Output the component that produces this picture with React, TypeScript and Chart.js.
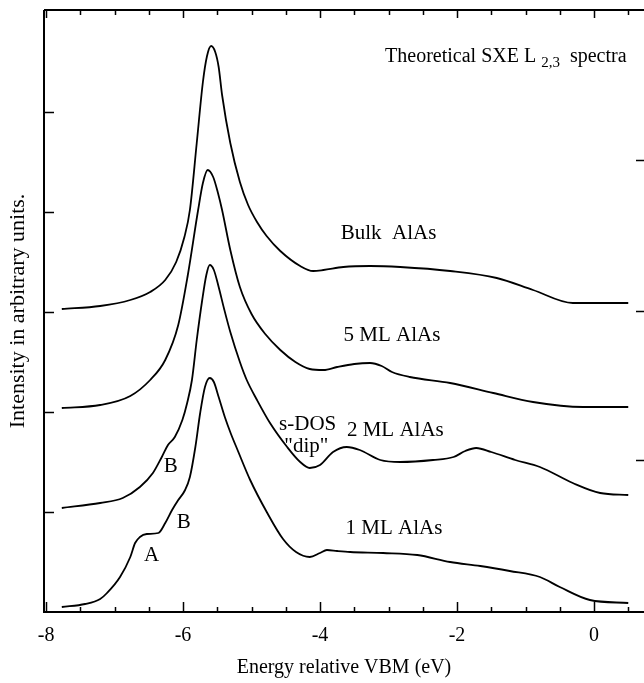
import React, { useEffect, useRef } from "react";
import { Chart, registerables } from "chart.js";

Chart.register(...registerables);

const FONT = '"Liberation Serif", "Times New Roman", serif';

// Energy (eV) and intensity (arb. units, stacked offsets as in the figure)
const bulkE = [-7.77, -7.21, -6.77, -6.48, -6.26, -6.1, -5.98, -5.9, -5.8, -5.71, -5.65, -5.59, -5.53, -5.48, -5.43, -5.31, -5.17, -5.05, -4.92, -4.78, -4.58, -4.29, -4.1, -3.95, -3.66, -3.27, -2.83, -2.1, -1.42, -0.89, -0.31, 0.0, 0.5];
const bulkI = [3.03, 3.06, 3.12, 3.2, 3.32, 3.5, 3.75, 4.02, 4.69, 5.3, 5.56, 5.66, 5.6, 5.45, 5.17, 4.69, 4.3, 4.07, 3.9, 3.76, 3.61, 3.46, 3.41, 3.42, 3.45, 3.46, 3.45, 3.41, 3.34, 3.22, 3.09, 3.09, 3.09];

const ml5E = [-7.77, -7.21, -6.77, -6.48, -6.26, -6.07, -5.93, -5.78, -5.71, -5.64, -5.56, -5.49, -5.43, -5.31, -5.17, -5.0, -4.8, -4.58, -4.36, -4.15, -3.95, -3.75, -3.5, -3.27, -3.1, -2.95, -2.69, -2.1, -1.47, -0.89, -0.16, 0.5];
const ml5I = [2.04, 2.07, 2.16, 2.32, 2.52, 2.87, 3.37, 4.02, 4.29, 4.42, 4.35, 4.19, 4.02, 3.62, 3.25, 2.98, 2.78, 2.62, 2.5, 2.43, 2.42, 2.45, 2.48, 2.49, 2.46, 2.4, 2.35, 2.29, 2.19, 2.1, 2.05, 2.05];

const ml2E = [-7.77, -7.21, -6.88, -6.63, -6.44, -6.31, -6.22, -6.12, -6.01, -5.94, -5.87, -5.8, -5.72, -5.66, -5.61, -5.55, -5.48, -5.4, -5.31, -5.17, -5.07, -4.92, -4.73, -4.48, -4.29, -4.15, -4.0, -3.81, -3.61, -3.42, -3.12, -2.83, -2.35, -2.05, -1.88, -1.72, -1.5, -1.15, -0.79, -0.31, 0.09, 0.5];
const ml2I = [1.04, 1.09, 1.14, 1.25, 1.39, 1.55, 1.67, 1.75, 1.92, 2.09, 2.32, 2.72, 3.12, 3.37, 3.47, 3.42, 3.25, 3.03, 2.8, 2.5, 2.32, 2.12, 1.89, 1.65, 1.5, 1.44, 1.47, 1.6, 1.65, 1.62, 1.52, 1.5, 1.52, 1.55, 1.61, 1.64, 1.6, 1.52, 1.45, 1.29, 1.19, 1.17];

const ml1E = [-7.77, -7.43, -7.21, -7.11, -6.92, -6.77, -6.7, -6.63, -6.53, -6.36, -6.26, -6.16, -6.07, -5.97, -5.9, -5.82, -5.75, -5.68, -5.61, -5.55, -5.48, -5.39, -5.3, -5.21, -5.02, -4.77, -4.54, -4.35, -4.15, -4.0, -3.9, -3.75, -3.56, -3.08, -2.58, -2.1, -1.66, -1.23, -0.79, -0.5, -0.06, 0.5];
const ml1I = [0.05, 0.08, 0.13, 0.19, 0.35, 0.55, 0.69, 0.75, 0.78, 0.79, 0.89, 1.02, 1.12, 1.22, 1.35, 1.65, 1.99, 2.25, 2.34, 2.3, 2.15, 1.95, 1.78, 1.63, 1.32, 0.99, 0.73, 0.6, 0.55, 0.59, 0.62, 0.61, 0.6, 0.59, 0.57, 0.5, 0.46, 0.41, 0.35, 0.25, 0.12, 0.09];

const xTickValues = [-8, -6, -4, -2, 0];
const xMinorTicks = [-7.5, -7, -6.5, -5.5, -5, -4.5, -3.5, -3, -2.5, -1.5, -1, -0.5, 0.5];
const leftTicks = [1, 2, 3, 4, 5];
const rightTicks = [1.52, 3.01, 4.52];

const X_MIN = -8.03;
const X_MAX = 0.73;
const Y_MIN = 0;
const Y_MAX = 6.02;

// annotations: text, energy, intensity (centre)
const annText = ["Bulk  AlAs", "5 ML AlAs", "2 ML AlAs", "1 ML AlAs", "s-DOS", "\"dip\"", "B", "B", "A"];
const annE = [-3.0, -2.95, -2.9, -2.92, -4.18, -4.2, -6.18, -5.99, -6.46];
const annI = [3.79, 2.77, 1.82, 0.84, 1.88, 1.66, 1.46, 0.9, 0.57];

const toPoints = (xs: number[], ys: number[]) => xs.map((x, i) => ({ x, y: ys[i] }));

const framePlugin = {
  id: "frame",
  afterDatasetsDraw(chart: any) {
    const { ctx, chartArea: a, scales } = chart;
    const x = scales.x;
    const y = scales.y;
    ctx.save();
    ctx.strokeStyle = "#000";
    ctx.lineWidth = 2;
    ctx.beginPath();
    ctx.moveTo(a.left, a.top);
    ctx.lineTo(a.left, a.bottom);
    ctx.lineTo(a.right, a.bottom);
    ctx.moveTo(a.left, a.top);
    ctx.lineTo(a.right, a.top);
    ctx.stroke();
    ctx.lineWidth = 1.5;
    ctx.beginPath();
    xTickValues.forEach((v) => {
      const px = Math.round(x.getPixelForValue(v)) + 0.5;
      ctx.moveTo(px, a.bottom);
      ctx.lineTo(px, a.bottom - 10);
      ctx.moveTo(px, a.top);
      ctx.lineTo(px, a.top + 8);
    });
    xMinorTicks.forEach((v) => {
      const px = Math.round(x.getPixelForValue(v)) + 0.5;
      ctx.moveTo(px, a.bottom);
      ctx.lineTo(px, a.bottom - 5);
      ctx.moveTo(px, a.top);
      ctx.lineTo(px, a.top + 5);
    });
    leftTicks.forEach((v) => {
      const py = Math.round(y.getPixelForValue(v)) + 0.5;
      ctx.moveTo(a.left, py);
      ctx.lineTo(a.left + 10, py);
    });
    rightTicks.forEach((v) => {
      const py = Math.round(y.getPixelForValue(v)) + 0.5;
      ctx.moveTo(a.right, py);
      ctx.lineTo(a.right - 8, py);
    });
    ctx.stroke();
    ctx.restore();
  },
};

const textPlugin = {
  id: "texts",
  afterDraw(chart: any) {
    const { ctx, scales } = chart;
    const x = scales.x;
    const y = scales.y;
    ctx.save();
    ctx.fillStyle = "#000";
    ctx.textBaseline = "middle";
    ctx.textAlign = "center";
    ctx.font = `21px ${FONT}`;
    annText.forEach((t, i) => {
      ctx.fillText(t, x.getPixelForValue(annE[i]), y.getPixelForValue(annI[i]));
    });
    // title with subscript
    ctx.textAlign = "left";
    ctx.textBaseline = "alphabetic";
    let px = x.getPixelForValue(-3.05);
    const base = y.getPixelForValue(5.5);
    ctx.font = `20px ${FONT}`;
    const p1 = "Theoretical SXE L ";
    ctx.fillText(p1, px, base);
    px += ctx.measureText(p1).width;
    ctx.font = `15px ${FONT}`;
    const sub = "2,3";
    ctx.fillText(sub, px, base + 5);
    px += ctx.measureText(sub).width;
    ctx.font = `20px ${FONT}`;
    ctx.fillText("  spectra", px, base);
    ctx.restore();
  },
};

export default function App() {
  const ref = useRef<HTMLCanvasElement | null>(null);
  useEffect(() => {
    if (!ref.current) return;
    const line = (xs: number[], ys: number[], label: string) => ({
      label,
      data: toPoints(xs, ys),
      borderColor: "#000",
      borderWidth: 1.8,
      pointRadius: 0,
      fill: false,
      cubicInterpolationMode: "monotone" as const,
    });
    const chart = new Chart(ref.current, {
      type: "line",
      data: {
        datasets: [
          line(bulkE, bulkI, "Bulk AlAs"),
          line(ml5E, ml5I, "5 ML AlAs"),
          line(ml2E, ml2I, "2 ML AlAs"),
          line(ml1E, ml1I, "1 ML AlAs"),
        ],
      },
      options: {
        animation: false,
        responsive: false,
        layout: { padding: { top: 10, right: 0, left: 0, bottom: 0 } },
        plugins: { legend: { display: false }, tooltip: { enabled: false } },
        scales: {
          x: {
            type: "linear",
            min: X_MIN,
            max: X_MAX,
            grid: { display: false, drawTicks: false },
            border: { display: false },
            afterBuildTicks: (s: any) => {
              s.ticks = xTickValues.map((v) => ({ value: v }));
            },
            afterFit: (s: any) => {
              s.height = 71;
            },
            ticks: {
              color: "#000",
              font: { family: FONT, size: 20 },
              padding: 12,
              maxRotation: 0,
              autoSkip: false,
              callback: (v: any) => String(v),
            },
            title: {
              display: true,
              text: "Energy relative VBM (eV)",
              color: "#000",
              font: { family: FONT, size: 20 },
              padding: { top: 0, bottom: 3 },
            },
          },
          y: {
            type: "linear",
            min: Y_MIN,
            max: Y_MAX,
            grid: { display: false, drawTicks: false },
            border: { display: false },
            ticks: { display: false },
            afterFit: (s: any) => {
              s.width = 44;
            },
            title: {
              display: true,
              text: "Intensity in arbitrary units.",
              color: "#000",
              font: { family: FONT, size: 22 },
              padding: { top: 5, bottom: 0 },
            },
          },
        },
      },
      plugins: [framePlugin, textPlugin],
    });
    return () => chart.destroy();
  }, []);
  return (
    <div style={{ position: "absolute", left: 0, top: 0, width: 644, height: 683, background: "#fff" }}>
      <canvas ref={ref} width={644} height={683} style={{ display: "block" }} />
    </div>
  );
}
